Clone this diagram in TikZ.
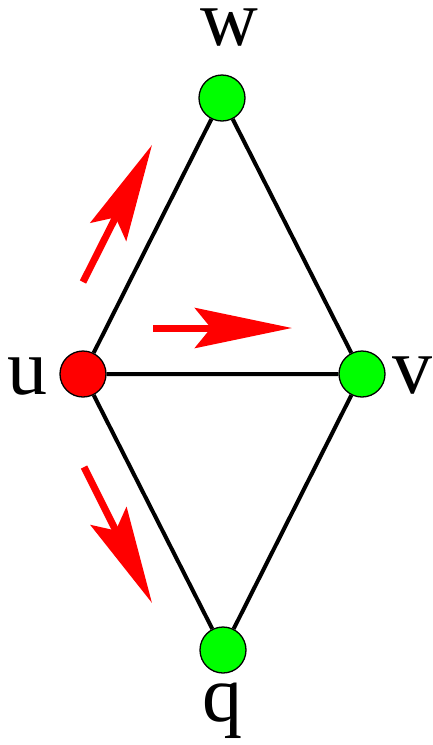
\documentclass[tikz,border=0pt]{standalone}
\usepackage{fontspec}
\setmainfont{Liberation Serif}
\usetikzlibrary{arrows.meta}
\begin{document}
\begin{tikzpicture}[x=1pt,y=-1pt,
      vert/.style={circle,draw,line width=1.3pt,minimum size=46pt,inner sep=0pt},
      start/.style={vert,fill=red},
      other/.style={vert,fill=green},
      lbl/.style={anchor=base,inner sep=0pt,text height=37pt,
                  font=\fontsize{80}{80}\selectfont},
      edge/.style={line width=4pt},
      move/.style={red,line width=7pt,-{Stealth[length=97pt,width=40pt,inset=16pt]}}]
    \useasboundingbox (0,0) rectangle (433,745);
    \node[start] (u) at (83,374) {};
    \node[other] (v) at (362,374) {};
    \node[other] (w) at (222,98) {};
    \node[other] (q) at (223,650) {};
    \node[lbl] (lw) at (229,45) {w};
    \node[lbl] (lu) at (28,394) {u};
    \node[lbl] (lv) at (412,393) {v};
    \node[lbl] (lq) at (222,721) {q};
    \draw[edge] (u)--(w) (u)--(v) (u)--(q) (w)--(v) (q)--(v);
    \coordinate (a1) at (83,282); \coordinate (b1) at (152,145);
    \coordinate (a2) at (153,328); \coordinate (b2) at (292,328);
    \coordinate (a3) at (84,467); \coordinate (b3) at (152,603);
    \draw[move] (a1)--(b1); \draw[move] (a2)--(b2); \draw[move] (a3)--(b3);
  \end{tikzpicture}
\end{document}
